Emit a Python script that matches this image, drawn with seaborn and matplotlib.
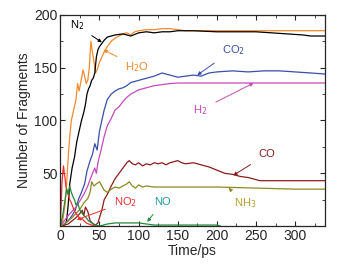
import matplotlib
matplotlib.use('Agg')
import matplotlib.pyplot as plt
import seaborn as sns
from matplotlib.ticker import MultipleLocator

# Fragment counts (time in ps)
h2o_t = [0, 3, 6, 8, 10, 12, 14, 17, 20, 22, 24, 27, 29, 31, 33, 35, 37, 39, 41, 43, 45, 47,
         50, 53, 56, 60, 65, 70, 75, 80, 85, 90, 95, 100, 110, 120, 130, 140, 150, 160, 200, 250, 300, 338]
h2o_v = [0, 5, 20, 40, 65, 85, 100, 110, 120, 135, 128, 140, 148, 142, 135, 138, 150, 175, 165, 155, 145, 148,
         155, 160, 165, 170, 175, 178, 180, 182, 183, 181, 184, 185, 186, 186, 187, 187, 186, 185, 185, 185, 185, 185]

n2_t = [0, 5, 8, 10, 12, 15, 18, 21, 24, 27, 30, 32, 34, 36, 38, 40, 42, 44, 46, 48, 50, 53, 56, 60,
        65, 70, 80, 90, 100, 110, 120, 130, 140, 150, 170, 200, 230, 250, 270, 290, 310, 320, 338]
n2_v = [0, 1, 5, 20, 40, 55, 65, 80, 90, 100, 108, 115, 125, 130, 133, 138, 140, 145, 160, 167, 170, 173, 176, 179,
        180, 181, 182, 180, 183, 184, 183, 184, 184, 185, 185, 184, 184, 184, 183, 182, 181, 180, 180]

co2_t = [0, 5, 10, 15, 19, 23, 27, 31, 34, 38, 41, 44, 47, 50, 53, 56, 60, 65, 70, 75, 80, 85, 90, 95,
         100, 110, 120, 130, 140, 150, 160, 170, 180, 190, 200, 220, 240, 260, 280, 300, 320, 338]
co2_v = [0, 2, 5, 10, 15, 25, 32, 40, 52, 62, 68, 78, 72, 90, 100, 110, 120, 125, 128, 130, 131, 133, 136, 137,
         138, 140, 142, 145, 143, 141, 142, 143, 142, 145, 146, 147, 146, 147, 147, 146, 145, 144]

h2_t = [0, 5, 10, 15, 20, 25, 30, 35, 40, 44, 46, 48, 52, 56, 60, 65, 70, 75, 80, 85, 90, 95,
        100, 110, 120, 130, 140, 150, 200, 250, 300, 338]
h2_v = [0, 5, 10, 14, 18, 24, 30, 38, 48, 55, 50, 60, 72, 85, 95, 102, 110, 113, 118, 122, 125, 127,
        129, 131, 133, 134, 135, 135.5, 135.5, 135.5, 135.5, 135.5]

co_t = [0, 10, 15, 20, 25, 28, 30, 32, 35, 38, 42, 45, 48, 50, 53, 56, 60, 65, 70, 75, 80, 85, 88, 92, 96,
        100, 105, 110, 115, 120, 125, 130, 135, 140, 145, 150, 155, 160, 170, 180, 190, 200, 210, 220, 230,
        240, 250, 255, 260, 300, 338]
co_v = [0, 2, 5, 8, 12, 15, 10, 18, 14, 5, 2, 1, 3, 8, 15, 25, 30, 38, 45, 50, 55, 60, 62, 59, 58,
        60, 57, 59, 58, 60, 59, 60, 58, 60, 61, 62, 60, 59, 60, 58, 56, 53, 50, 49, 47,
        46, 44, 43, 43, 43, 43]

nh3_t = [0, 5, 10, 15, 20, 25, 30, 35, 38, 40, 43, 46, 50, 53, 56, 60, 65, 70, 75, 80, 85, 88, 92, 96,
         100, 105, 110, 120, 140, 160, 200, 250, 300, 338]
nh3_v = [0, 2, 5, 8, 12, 16, 22, 26, 32, 42, 38, 40, 42, 38, 34, 32, 35, 37, 36, 38, 40, 42, 38, 36,
         39, 37, 38, 37, 37, 37, 37, 36, 35, 35]

no2_t = [0, 1, 2, 3, 4, 5, 6, 7, 8, 10, 12, 14, 16, 18, 20, 22, 24, 26, 28, 30, 33, 36, 40, 45]
no2_v = [0, 20, 40, 50, 57, 50, 45, 38, 35, 30, 25, 22, 18, 14, 12, 10, 8, 6, 7, 5, 3, 2, 1, 0]

no_t = [0, 3, 6, 8, 10, 12, 14, 16, 18, 20, 22, 25, 28, 30, 33, 36, 40, 45, 50, 55, 60, 70, 80, 90,
        100, 110, 120, 150, 200, 205]
no_v = [0, 10, 25, 35, 30, 38, 32, 28, 25, 20, 22, 15, 12, 10, 8, 5, 3, 1, 0, 1, 2, 3, 3, 3,
        3, 2, 1, 1, 1, 0]

series = [
    (h2o_t, h2o_v, '#f28a2e'),
    (n2_t, n2_v, 'black'),
    (co2_t, co2_v, '#3a4fa8'),
    (h2_t, h2_v, '#c44bb9'),
    (co_t, co_v, '#8b1c1c'),
    (nh3_t, nh3_v, '#8a8a22'),
    (no2_t, no2_v, '#ee3030'),
    (no_t, no_v, '#1f8a3a'),
]

sns.set_style('ticks')
plt.rcParams['font.family'] = ['Liberation Sans', 'DejaVu Sans']

fig = plt.figure(figsize=(3.43, 2.66), dpi=100)
ax = fig.add_axes([0.176, 0.150, 0.771, 0.794])

for t, v, c in series:
    sns.lineplot(x=t, y=v, color=c, linewidth=0.9, ax=ax, sort=False)

# labels with arrows
notes = [
    ('N$_2$', (53, 174), (21, 190), 'black', 'black'),
    ('H$_2$O', (55, 167), (98, 151), '#f28a2e', '#f28a2e'),
    ('CO$_2$', (175, 143), (221, 167), '#3a4fa8', '#3a4fa8'),
    ('H$_2$', (247, 135.5), (179, 110), '#c44bb9', '#c44bb9'),
    ('CO', (221, 48), (264, 68), '#8b1c1c', '#8b1c1c'),
    ('NH$_3$', (215, 36), (236, 22), '#b0a030', '#8a8a22'),
    ('NO$_2$', (21, 6), (83, 23), '#ee3030', '#ee3030'),
    ('NO', (111, 4), (131, 23), '#20a0a0', '#1f8a3a'),
]
for txt, xy, xytext, tc, ac in notes:
    ax.annotate(txt, xy=xy, xytext=xytext, color=tc, fontsize=8,
                ha='center', va='center',
                arrowprops=dict(arrowstyle='-|>', color=ac, lw=0.7,
                                mutation_scale=5, shrinkA=4, shrinkB=0))

ax.set_xlim(0, 338)
ax.set_ylim(0, 200)
ax.xaxis.set_major_locator(MultipleLocator(50))
ax.xaxis.set_minor_locator(MultipleLocator(25))
ax.set_yticks([50, 100, 150, 200])
ax.yaxis.set_minor_locator(MultipleLocator(25))
ax.tick_params(which='both', direction='in', top=True, right=True, labelsize=10, pad=2)
ax.tick_params(which='major', length=3.5, width=0.8)
ax.tick_params(which='minor', length=2, width=0.6)
for s in ax.spines.values():
    s.set_linewidth(0.9)

ax.set_xlabel('Time/ps', fontsize=10, labelpad=1)
ax.set_ylabel('Number of Fragments', fontsize=10, labelpad=2)

plt.savefig('out.png', dpi=100)
